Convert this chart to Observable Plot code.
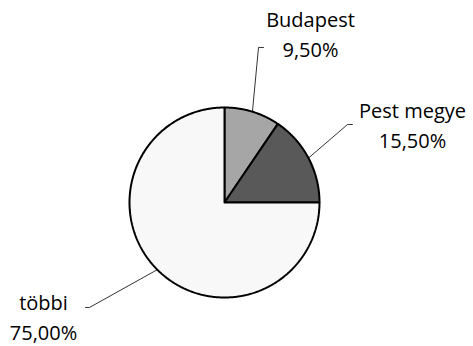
<!DOCTYPE html>
<html>
<head>
<meta charset="utf-8">
<script src="https://cdn.jsdelivr.net/npm/d3@7"></script>
<script src="https://cdn.jsdelivr.net/npm/@observablehq/plot@0.6"></script>
<style>
  html, body { margin: 0; padding: 0; background: #fff; }
</style>
</head>
<body>
<div id="chart"></div>
<script>
// Data
const categories = ["Budapest", "Pest megye", "többi"];
const shares = [9.5, 15.5, 75.0];
const valueLabels = ["9,50%", "15,50%", "75,00%"];
const sliceColors = ["#a6a6a6", "#595959", "#f8f8f8"];

// Layout (chart units, radius = 1)
const layout = {
  "Budapest":   {elbow: [0.358, 1.632], end: [0.411, 1.632], text: [0.905, 1.79]},
  "Pest megye": {elbow: [1.295, 0.821], end: [1.347, 0.821], text: [1.979, 0.835]},
  "többi":      {elbow: [-1.421, -1.105], end: [-1.463, -1.105], text: [-1.905, -1.19]}
};

const W = 473, H = 346, R = 95, CX = 224, CY = 202;

// Build slice polygons from shares (clockwise from 12 o'clock)
const total = d3.sum(shares);
const slicePts = [];
const leaderPts = [];
const labels = [];
let acc = 0;
categories.forEach((name, i) => {
  const a0 = acc / total * 2 * Math.PI;
  acc += shares[i];
  const a1 = acc / total * 2 * Math.PI;
  const steps = Math.max(2, Math.ceil((a1 - a0) / (Math.PI / 360)));
  slicePts.push({name, x: 0, y: 0});
  for (let k = 0; k <= steps; k++) {
    const a = a0 + (a1 - a0) * k / steps;
    slicePts.push({name, x: Math.sin(a), y: Math.cos(a)});
  }
  slicePts.push({name, x: 0, y: 0});
  const am = (a0 + a1) / 2;
  const L = layout[name];
  leaderPts.push({name, x: Math.sin(am), y: Math.cos(am)});
  leaderPts.push({name, x: L.elbow[0], y: L.elbow[1]});
  leaderPts.push({name, x: L.end[0], y: L.end[1]});
  labels.push({name, x: L.text[0], y: L.text[1], text: name + "\n" + valueLabels[i]});
});

const chart = Plot.plot({
  width: W,
  height: H,
  margin: 0,
  x: {domain: [-CX / R, (W - CX) / R], range: [0, W], axis: null},
  y: {domain: [(CY - H) / R, CY / R], range: [H, 0], axis: null},
  color: {domain: categories, range: sliceColors},
  style: {background: "#fff", fontFamily: "'Open Sans', sans-serif"},
  marks: [
    Plot.line(slicePts, {x: "x", y: "y", z: "name", fill: "name", stroke: "#000", strokeWidth: 2, strokeLinejoin: "miter", curve: "linear"}),
    Plot.line(leaderPts, {x: "x", y: "y", z: "name", stroke: "#000", strokeWidth: 0.8}),
    Plot.text(labels, {x: "x", y: "y", text: "text", fontSize: 20, lineHeight: 1.5, textAnchor: "middle", fill: "#000"})
  ]
});
document.getElementById("chart").appendChild(chart);
</script>
</body>
</html>
